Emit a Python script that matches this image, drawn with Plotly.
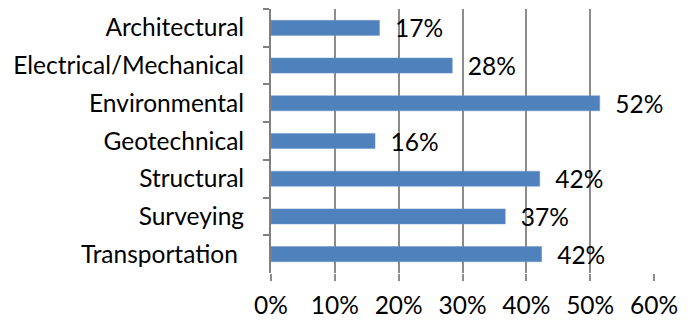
import plotly.graph_objects as go

categories = ["Architectural", "Electrical/Mechanical", "Environmental", "Geotechnical",
              "Structural", "Surveying", "Transportation\u00a0"]
values = [0.17, 0.284, 0.515, 0.163, 0.421, 0.367, 0.424]
x_ticks = [0, 0.1, 0.2, 0.3, 0.4, 0.5, 0.6]
x_ticklabels = ["0%", "10%", "20%", "30%", "40%", "50%", "60%"]

FONT = "Lato"
FS = 24.5

fig = go.Figure(go.Bar(
    x=values, y=categories, orientation="h",
    marker=dict(color="#4F81BD", line=dict(color="#6E97C8", width=0.5)),
    width=0.4,
    text=[f"\u00a0\u00a0{round(v*100):d}%" for v in values],
    textposition="outside", cliponaxis=False, constraintext="none",
    textfont=dict(family=FONT, size=FS, color="#000000"),
))

fig.update_layout(
    width=693, height=321,
    margin=dict(l=271, r=39, t=9, b=48, autoexpand=False),
    paper_bgcolor="white", plot_bgcolor="white",
    showlegend=False,
    font=dict(family=FONT, size=FS, color="#000000"),
    xaxis=dict(range=[0, 0.6], tickvals=x_ticks, ticktext=x_ticklabels,
               showgrid=True, gridcolor="#8C8C8C", gridwidth=1.5,
               ticks="outside", ticklen=7, tickcolor="#8C8C8C", tickwidth=1.5,
               showline=False, zeroline=False, ticklabelstandoff=4,
               automargin=False,
               tickfont=dict(family=FONT, size=FS)),
    yaxis=dict(autorange="reversed", showline=True, linecolor="#808080", linewidth=2,
               ticks="outside", ticklen=6, tickcolor="#808080", tickwidth=1.5,
               tickson="boundaries", showgrid=False, zeroline=False,
               ticklabelstandoff=20, automargin=False,
               tickfont=dict(family=FONT, size=FS)),
)

fig.write_html("out.html")
